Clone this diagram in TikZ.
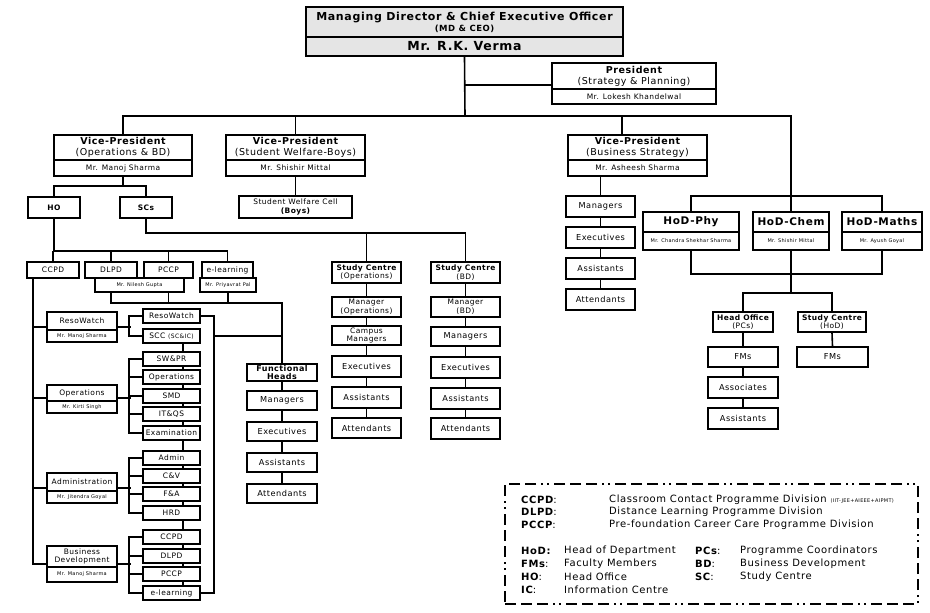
\documentclass[tikz,border=0pt]{standalone}
\usepackage{fontspec}
\setmainfont{DejaVu Sans}[LetterSpace=6]
\usetikzlibrary{backgrounds}
% box from (x1,y1) to (x2,y2), y counted downwards
\newcommand{\orgbox}[7][]{\node[unit,minimum width={#4-#2},minimum height={#5-#3},#1] (#6) at ({(#2+#4)/2},{(#3+#5)/2}) {#7};}
\tikzset{
  unit/.style={draw,line width=1.6pt,fill=white,inner sep=0pt,align=center,font=\fontsize{7.5}{8.5}\selectfont},
  wire/.style={line width=1.6pt},
  rank/.style={font=\fontsize{8.2}{9}\selectfont},
  vp/.style={font=\fontsize{9.5}{11}\selectfont},
  who/.style={font=\fontsize{7.5}{8}\selectfont},
  wee/.style={font=\fontsize{5}{6}\selectfont},
  hod/.style={font=\fontsize{10.5}{12}\selectfont\bfseries},
  heavy/.style={font=\fontsize{7.5}{8.5}\selectfont\bfseries},
  keytxt/.style={anchor=west,inner sep=0pt,font=\fontsize{10}{11}\selectfont}
}
\begin{document}
\begin{tikzpicture}[x=1pt,y=-1pt]
\useasboundingbox (0,0) rectangle (930,613);

% MD & president
\orgbox[fill=black!10,line width=1.9pt]{306}{7}{623}{37}{mdt}{{\fontsize{11}{12}\selectfont\bfseries Managing Director \& Chief Executive Officer}\\[1pt]{\fontsize{8.5}{9}\selectfont\bfseries (MD \& CEO)}}
\orgbox[fill=black!10,line width=1.9pt]{306}{37}{623}{56}{mdn}{\fontsize{12.5}{13}\selectfont\bfseries Mr. R.K. Verma}
\orgbox[font=\fontsize{9.5}{11}\selectfont]{552}{63}{716}{89}{pres}{{\bfseries President}\\(Strategy \& Planning)}
\orgbox[font=\fontsize{7.5}{8}\selectfont]{552}{89}{716}{104}{presn}{Mr. Lokesh Khandelwal}

% vice-presidents
\orgbox[vp]{54}{135}{192}{160}{vpops}{{\bfseries Vice-President}\\(Operations \& BD)}
\orgbox[who]{54}{160}{192}{176}{vpopsn}{Mr. Manoj Sharma}
\orgbox[vp]{226}{135}{365}{160}{vpsw}{{\bfseries Vice-President}\\(Student Welfare-Boys)}
\orgbox[who]{226}{160}{365}{176}{vpswn}{Mr. Shishir Mittal}
\orgbox[vp]{568}{135}{707}{160}{vpbs}{{\bfseries Vice-President}\\(Business Strategy)}
\orgbox[who]{568}{160}{707}{176}{vpbsn}{Mr. Asheesh Sharma}

\orgbox[heavy]{28}{197}{80}{218}{ho}{HO}
\orgbox[heavy]{120}{197}{172}{218}{scs}{SCs}
\orgbox{239}{196}{352}{218}{swc}{Student Welfare Cell\\{\bfseries (Boys)}}

% business strategy
\orgbox[rank]{566}{196}{635}{217}{bsman}{Managers}
\orgbox[rank]{566}{227}{635}{248}{bsexe}{Executives}
\orgbox[rank]{566}{258}{635}{279}{bsass}{Assistants}
\orgbox[rank]{566}{289}{635}{310}{bsatt}{Attendants}

% HoDs
\orgbox[hod]{643}{212}{739}{232}{hodphy}{HoD-Phy}
\orgbox[wee]{643}{232}{739}{250}{hodphyn}{Mr. Chandra Shekhar Sharma}
\orgbox[hod,line width=1.9pt]{753}{212}{829}{232}{hodchem}{HoD-Chem}
\orgbox[wee,line width=1.9pt]{753}{232}{829}{250}{hodchemn}{Mr. Shishir Mittal}
\orgbox[hod]{842}{212}{922}{232}{hodmaths}{HoD-Maths}
\orgbox[wee]{842}{232}{922}{250}{hodmathsn}{Mr. Ayush Goyal}
\orgbox{713}{312}{773}{332}{hooff}{{\bfseries Head Office}\\(PCs)}
\orgbox{798}{312}{866}{332}{schod}{{\bfseries Study Centre}\\(HoD)}
\orgbox[rank]{708}{347}{778}{367}{hofm}{FMs}
\orgbox[rank]{708}{377}{778}{398}{hoass}{Associates}
\orgbox[rank]{708}{408}{778}{429}{hoasst}{Assistants}
\orgbox[rank]{797}{347}{868}{367}{scfm}{FMs}

% study centres
\orgbox{332}{262}{401}{283}{scops}{{\bfseries Study Centre}\\(Operations)}
\orgbox{332}{297}{401}{317}{scopsm}{Manager\\(Operations)}
\orgbox{332}{326}{401}{345}{scopsc}{Campus\\Managers}
\orgbox[rank]{332}{356}{401}{377}{scopse}{Executives}
\orgbox[rank]{332}{387}{401}{408}{scopsa}{Assistants}
\orgbox[rank]{332}{418}{401}{438}{scopst}{Attendants}
\orgbox{431}{262}{500}{283}{scbd}{{\bfseries Study Centre}\\(BD)}
\orgbox{431}{297}{500}{317}{scbdm}{Manager\\(BD)}
\orgbox[rank]{431}{327}{500}{346}{scbdg}{Managers}
\orgbox[rank]{431}{357}{500}{378}{scbde}{Executives}
\orgbox[rank]{431}{388}{500}{409}{scbda}{Assistants}
\orgbox[rank]{431}{418}{500}{439}{scbdt}{Attendants}

% HO divisions
\orgbox{27}{262}{79}{278}{ccpd}{CCPD}
\orgbox{85}{262}{137}{278}{dlpd}{DLPD}
\orgbox{144}{262}{193}{278}{pccp}{PCCP}
\orgbox{202}{262}{253}{278}{elrn}{e-learning}
\orgbox[wee]{95}{278}{184}{292}{nilesh}{Mr. Nilesh Gupta}
\orgbox[wee]{200}{278}{256}{292}{priya}{Mr. Priyavrat Pal}

\orgbox[font=\fontsize{8}{7.5}\selectfont\bfseries]{247}{364}{317}{381}{fh}{Functional\\Heads}
\orgbox[rank]{247}{391}{317}{410}{fhman}{Managers}
\orgbox[rank]{247}{422}{317}{441}{fhexe}{Executives}
\orgbox[rank]{247}{453}{317}{472}{fhass}{Assistants}
\orgbox[rank]{247}{484}{317}{503}{fhatt}{Attendants}

% left column
\orgbox{47}{312}{117}{330}{rwl}{ResoWatch}
\orgbox[wee]{47}{330}{117}{342}{rwln}{Mr. Manoj Sharma}
\orgbox{47}{385}{117}{401}{opl}{Operations}
\orgbox[wee]{47}{401}{117}{413}{opln}{Mr. Kirti Singh}
\orgbox{47}{473}{117}{491}{adl}{Administration}
\orgbox[wee]{47}{491}{117}{503}{adln}{Mr. Jitendra Goyal}
\orgbox[font=\fontsize{7.5}{8}\selectfont]{47}{546}{117}{567}{bdl}{Business\\Development}
\orgbox[wee]{47}{567}{117}{582}{bdln}{Mr. Manoj Sharma}

% right column
\orgbox{143}{309}{200}{323}{rwr}{ResoWatch}
\orgbox{143}{329}{200}{343}{sccr}{SCC {\fontsize{6}{6}\selectfont(SC\&IC)}}
\orgbox{143}{352}{200}{366}{swpr}{SW\&PR}
\orgbox{143}{370}{200}{384}{oper}{Operations}
\orgbox{143}{389}{200}{403}{smd}{SMD}
\orgbox{143}{407}{200}{421}{itqs}{IT\&QS}
\orgbox{143}{426}{200}{440}{exam}{Examination}
\orgbox{143}{451}{200}{465}{admr}{Admin}
\orgbox{143}{469}{200}{483}{cv}{C\&V}
\orgbox{143}{487}{200}{501}{fa}{F\&A}
\orgbox{143}{506}{200}{520}{hrd}{HRD}
\orgbox{143}{530}{200}{544}{ccpdr}{CCPD}
\orgbox{143}{549}{200}{563}{dlpdr}{DLPD}
\orgbox{143}{567}{200}{581}{pccpr}{PCCP}
\orgbox{143}{586}{200}{600}{elr}{e-learning}

\begin{pgfonlayer}{background}
\coordinate (bus) at (465,116);
\draw[wire] (mdn.south) -- (bus);
\draw[wire] ([yshift=5pt]pres.south west) -- ++(-87,0);
\draw[wire] (vpops.north) |- (bus) -| (hodchem.north);
\draw[wire] (vpsw.north) -- (vpsw.north |- bus);
\coordinate (bsdrop) at (622,116);
\draw[wire] (bsdrop) -- (bsdrop |- vpbs.north);
\draw[wire] (bsman.north |- vpbsn.south) -- (bsatt.north);
% HoD rows
\draw[wire] (hodphy.north) |- ([yshift=15pt]hodchem.north) -| (hodmaths.north);
\coordinate (hodlow) at (791,274);
\coordinate (hodmid) at (791,293);
\draw[wire] (hodphyn.south) |- (hodlow) -| (hodmathsn.south);
\draw[wire] (hodchemn.south) -- (hodmid);
\draw[wire] (hooff.north) |- (hodmid) -| (schod.north);
\draw[wire] (hooff.south) -- (hoasst.north);
\draw[wire] (schod.south) -- (scfm.north);
% operations & BD
\coordinate (opsfork) at (123,186);
\draw[wire] (vpopsn.south) -- (opsfork);
\draw[wire] (ho.north) |- (opsfork) -| (scs.north);
\draw[wire] (vpswn.south) -- (swc.north);
\coordinate (scbus) at (146,233);
\draw[wire] (scs.south) -- (scbus) -| (scbd.north);
\draw[wire] (scops.north) -- (scops.north |- scbus);
\draw[wire] (scops.south) -- (scopst.north);
\draw[wire] (scbd.south) -- (scbdt.north);
\coordinate (hobus) at (54,251);
\draw[wire] (ho.south) -- (hobus) -| (elrn.north);
\draw[wire] (ccpd.north) -- (ccpd.north |- hobus);
\draw[wire] (dlpd.north) -- (dlpd.north |- hobus);
\draw[wire] (pccp.north) -- (pccp.north |- hobus);
\coordinate (fhbus) at (282,303);
\draw[wire] (dlpd.south |- nilesh.south) |- (fhbus) -- (fh.north);
\draw[wire] (pccp.south |- nilesh.south) -- (pccp.south |- fhbus);
\draw[wire] (priya.south) -- (priya.south |- fhbus);
\draw[wire] (fh.south) -- (fhatt.north);
% left spine and brackets
\coordinate (spine) at (33,278);
\draw[wire] (spine) |- ([yshift=4pt]bdl.south west);
\draw[wire] ([yshift=4pt]rwl.south west) -- ++(-14,0);
\draw[wire] ([yshift=4pt]opl.south west) -- ++(-14,0);
\draw[wire] ([yshift=4pt]adl.south west) -- ++(-14,0);
\draw[wire] ([yshift=4pt]rwl.south east) -- ++(13,0);
\draw[wire] (rwr.west) -- ++(-13,0) |- (sccr.west);
\draw[wire] ([yshift=4pt]opl.south east) -- ++(13,0);
\draw[wire] (swpr.west) -- ++(-13,0) |- (exam.west);
\draw[wire] (oper.west) -- ++(-13,0);
\draw[wire] (smd.west) -- ++(-13,0);
\draw[wire] (itqs.west) -- ++(-13,0);
\draw[wire] ([yshift=4pt]adl.south east) -- ++(13,0);
\draw[wire] (admr.west) -- ++(-13,0) |- (hrd.west);
\draw[wire] (cv.west) -- ++(-13,0);
\draw[wire] (fa.west) -- ++(-13,0);
\draw[wire] ([yshift=4pt]bdl.south east) -- ++(13,0);
\draw[wire] (ccpdr.west) -- ++(-13,0) |- (elr.west);
\draw[wire] (dlpdr.west) -- ++(-13,0);
\draw[wire] (pccpr.west) -- ++(-13,0);
\draw[wire] (rwr.east) -- ++(13,0) |- (elr.east);
\coordinate (rbar) at (213,336);
\draw[wire] (rbar) -- (rbar -| fhbus);
\draw[wire] ([xshift=11.5pt]sccr.center) -- ([xshift=11.5pt]elr.center);
\end{pgfonlayer}

% legend
\orgbox[fill=none,line width=1.7pt,dash pattern=on 11pt off 5pt on 11pt off 5pt on 11pt off 5pt on 2pt off 4pt on 2pt off 5pt]{505}{484}{918}{604}{legend}{}
\node[keytxt] (kccpd) at (521,500) {\bfseries CCPD\mdseries:};
\node[keytxt] (dccpd) at (609,500) {Classroom Contact Programme Division {\fontsize{5}{6}\selectfont(IIT-JEE+AIEEE+AIPMT)}};
\node[keytxt] (kdlpd) at (521,512) {\bfseries DLPD\mdseries:};
\node[keytxt] (ddlpd) at (609,512) {Distance Learning Programme Division};
\node[keytxt] (kpccp) at (521,525) {\bfseries PCCP\mdseries:};
\node[keytxt] (dpccp) at (609,525) {Pre-foundation Career Care Programme Division};
\node[keytxt] (khod) at (521,551) {\bfseries HoD:};
\node[keytxt] (dhod) at (564,551) {Head of Department};
\node[keytxt] (kfms) at (521,564) {\bfseries FMs\mdseries:};
\node[keytxt] (dfms) at (564,564) {Faculty Members};
\node[keytxt] (kho) at (521,577) {\bfseries HO\mdseries:};
\node[keytxt] (dho) at (564,577) {Head Office};
\node[keytxt] (kic) at (521,590) {\bfseries IC\mdseries:};
\node[keytxt] (dic) at (564,590) {Information Centre};
\node[keytxt] (kpcs) at (695,551) {\bfseries PCs\mdseries:};
\node[keytxt] (dpcs) at (740,551) {Programme Coordinators};
\node[keytxt] (kbd) at (695,564) {\bfseries BD\mdseries:};
\node[keytxt] (dbd) at (740,564) {Business Development};
\node[keytxt] (ksc) at (695,577) {\bfseries SC\mdseries:};
\node[keytxt] (dsc) at (740,577) {Study Centre};
\end{tikzpicture}
\end{document}
